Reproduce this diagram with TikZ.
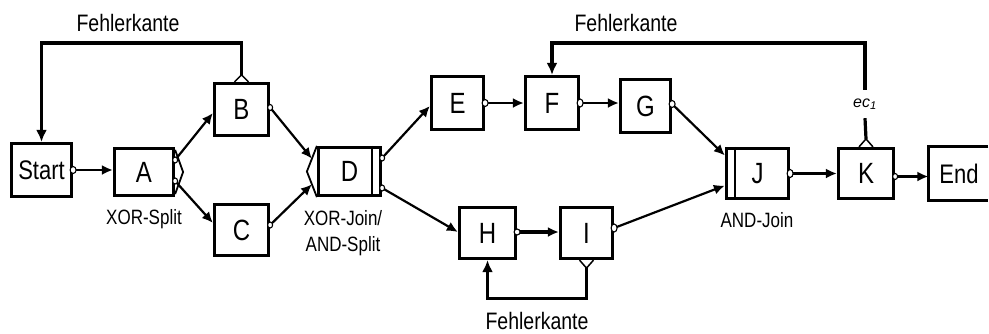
\documentclass[tikz,border=0pt]{standalone}
\usepackage{fontspec}
\usepackage{graphicx}
\setmainfont{Liberation Sans}
\usetikzlibrary{arrows.meta,calc}
% letters in this chart are set slightly taller than the font's own shapes
\newcommand{\tallx}[1]{\scalebox{1}[1.22]{#1}}
\begin{document}
\begin{tikzpicture}[x=1pt,y=-1pt,
  task/.style={draw, line width=3.2pt, rectangle, inner sep=0pt,
    font=\fontsize{24}{26}\selectfont},
  endtask/.style={task, font=\fontsize{22}{24}\selectfont},
  frame/.style={line width=3.2pt, line join=miter},
  flow/.style={line width=2.2pt, -{Latex[length=11pt,width=10pt]}},
  heavyflow/.style={flow, line width=3.4pt},
  fb/.style={line width=3.2pt, -{Latex[length=12pt,width=11pt]}},
  fbline/.style={line width=3.2pt},
  port/.style={draw, line width=1.1pt, fill=white},
  gate/.style={line width=1.8pt, line join=miter},
  gatebar/.style={line width=2.4pt},
  errmark/.style={draw, line width=1.5pt, fill=white, line join=miter},
  caption/.style={font=\fontsize{17}{26}\selectfont, align=center, inner sep=0pt},
  errlabel/.style={font=\fontsize{19.5}{22}\selectfont, inner sep=0pt},
]
\useasboundingbox (0,0) rectangle (989,333);
\clip (0,0) rectangle (989,333);

% activities
\node[endtask] (Start) at (41.5,170) [minimum width=60pt, minimum height=53pt] {\tallx{Start}};
\node[task] (A) at (144,172) [minimum width=59pt, minimum height=47pt] {\tallx{A}};
\node[task] (B) at (241.5,109.5) [minimum width=54pt, minimum height=52pt] {\tallx{B}};
\node[task] (C) at (241.5,230) [minimum width=54pt, minimum height=51pt] {\tallx{C}};
\node[task] (D) at (349.5,171.5) [minimum width=62pt, minimum height=48pt] {\tallx{D}};
\node[task] (E) at (457.5,103) [minimum width=52pt, minimum height=53pt] {\tallx{E}};
\node[task] (F) at (552,103) [minimum width=53pt, minimum height=53pt] {\tallx{F}};
\node[task] (G) at (645.5,106) [minimum width=50pt, minimum height=53pt] {\tallx{G}};
\node[task] (H) at (487.5,233) [minimum width=56pt, minimum height=51pt] {\raisebox{-7pt}{\tallx{H}}};
\node[task] (I) at (586.5,233) [minimum width=52pt, minimum height=51pt] {\tallx{I}};
\node[task] (J) at (757.5,173.5) [minimum width=62pt, minimum height=50pt] {\tallx{J}};
\node[task] (K) at (866,173.5) [minimum width=55pt, minimum height=50pt] {\tallx{K}};
% the End box runs on past the right margin, so only three sides are drawn
\node[endtask, draw=none] (End) at (959,173.5) [minimum width=58pt, minimum height=51pt] {\tallx{End}};
\draw[frame] ([xshift=60pt]End.north west) -- (End.north west) -- (End.south west) -- ([xshift=60pt]End.south west);

% captions
\node[caption] (capA) at (144,219) {\tallx{XOR-Split}};
\node[caption] (capD) at (343,233) {\tallx{XOR-Join/}\\\tallx{AND-Split}};
\node[caption] (capJ) at (757,220) {\tallx{AND-Join}};
\node[errlabel] (err1) at (128,23) {\tallx{Fehlerkante}};
\node[errlabel] (err2) at (626,23) {\tallx{Fehlerkante}};
\node[errlabel] (err3) at (537,321) {\tallx{Fehlerkante}};
\node[font=\fontsize{16}{18}\selectfont\itshape, inner sep=0pt, minimum height=28pt]
  (ec1) at (865,104) {ec\textsubscript{1}};

% gateway markers
\draw[gate] ([yshift=-3pt]A.north east) -- ([xshift=8pt]A.east) -- ([yshift=3pt]A.south east);
\draw[gate] (D.north west) -- ([xshift=-10pt]D.west) -- (D.south west);
\draw[gatebar] ([xshift=-10pt]D.north east) -- ([xshift=-10pt]D.south east);
\draw[gatebar] ([xshift=10pt]J.north west) -- ([xshift=10pt]J.south west);

% control flow
\draw[flow] (Start.east) -- (Start.east -| A.west);
\draw[flow] ([yshift=12pt]A.east) -- ([yshift=-3.5pt]B.west);
\draw[flow] ([yshift=-9pt]A.east) -- ([yshift=7pt]C.west);
\draw[flow] ([yshift=2pt]B.east) -- ($(D.north west)!0.5!([xshift=-10pt]D.west)$);
\draw[flow] ([yshift=5pt]C.east) -- ($(D.south west)!0.5!([xshift=-10pt]D.west)$);
\draw[flow] ([yshift=13.5pt]D.east) -- ([yshift=-3pt]E.west);
\draw[flow] ([yshift=-16.5pt]D.east) -- ([yshift=1pt]H.west);
\draw[flow] (E.east) -- (E.east -| F.west);
\draw[flow] (F.east) -- (F.east -| G.west);
\draw[heavyflow] ([yshift=1pt]H.east) -- ([yshift=1pt]H.east -| I.west);
\draw[flow] ([yshift=2pt]G.east) -- ([yshift=18pt]J.west);
\draw[flow] ([yshift=5pt]I.east) -- ([yshift=-12pt]J.west);
\draw[flow] (J.east) -- (J.east -| K.west);
\draw[heavyflow] ([yshift=-3pt]K.east) -- ([yshift=-3pt]K.east -| End.west);

% error edges
\draw[fb] ([yshift=7pt]B.north) |- ([yshift=99pt]Start.north) -- (Start.north);
\draw[fbline] ([yshift=8pt]K.north) -- (ec1.south);
\draw[fb] (ec1.north) |- ([yshift=32pt]F.north) -- (F.north);
\draw[fb] ([yshift=-8pt]I.south) |- ([yshift=-38pt]H.south) -- (H.south);
\draw[errmark] ([xshift=-7pt]B.north) -- ([yshift=7pt]B.north) -- ([xshift=7pt]B.north);
\draw[errmark] ([xshift=-7pt]K.north) -- ([yshift=8pt]K.north) -- ([xshift=7pt]K.north);
\draw[errmark] ([xshift=-7pt]I.south) -- ([yshift=-8pt]I.south) -- ([xshift=7pt]I.south);

% output ports
\draw[port] (Start.east) ellipse[x radius=3pt, y radius=3.5pt];
\draw[port] ([yshift=12pt]A.east) ellipse[x radius=2.5pt, y radius=3pt];
\draw[port] ([yshift=-9pt]A.east) ellipse[x radius=2.5pt, y radius=3pt];
\draw[port] ([yshift=2pt]B.east) ellipse[x radius=2.5pt, y radius=3pt];
\draw[port] ([yshift=5pt]C.east) ellipse[x radius=2.5pt, y radius=3pt];
\draw[port] ([yshift=13.5pt]D.east) ellipse[x radius=2.5pt, y radius=3pt];
\draw[port] ([yshift=-16.5pt]D.east) ellipse[x radius=2.5pt, y radius=3pt];
\draw[port] (E.east) ellipse[x radius=3pt, y radius=3.5pt];
\draw[port] (F.east) ellipse[x radius=3pt, y radius=4pt];
\draw[port] ([yshift=2pt]G.east) ellipse[x radius=3pt, y radius=3.5pt];
\draw[port] ([yshift=1pt]H.east) ellipse[x radius=3pt, y radius=3pt];
\draw[port] ([yshift=5pt]I.east) ellipse[x radius=3pt, y radius=4pt];
\draw[port] (J.east) ellipse[x radius=3pt, y radius=4pt];
\draw[port] ([yshift=-3pt]K.east) ellipse[x radius=2.5pt, y radius=3pt];
\end{tikzpicture}
\end{document}
